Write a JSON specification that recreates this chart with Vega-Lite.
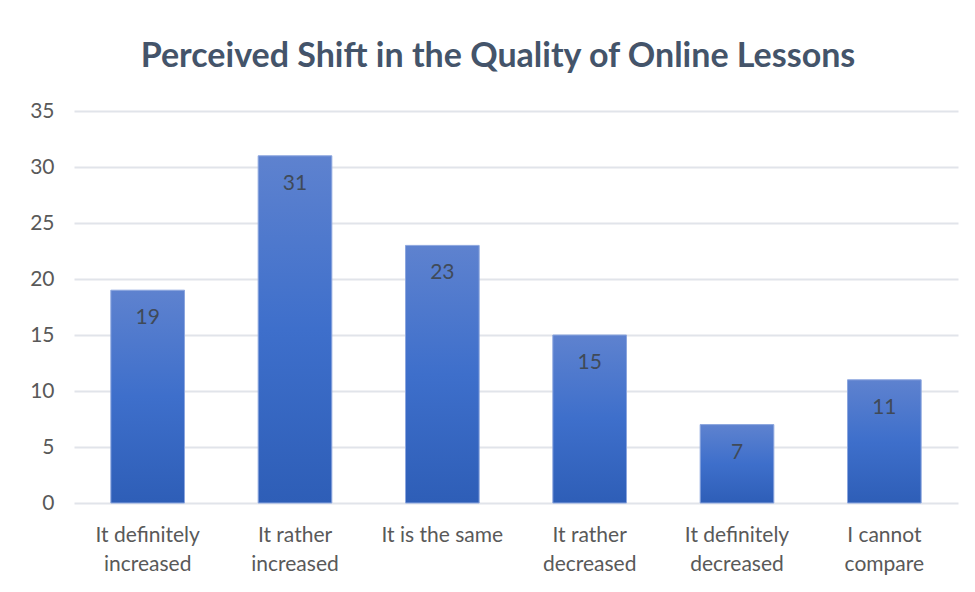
{
  "$schema": "https://vega.github.io/schema/vega-lite/v6.json",
  "autosize": "none",
  "width": 884,
  "height": 392,
  "padding": {"left": 74, "top": 111, "right": 17, "bottom": 89},
  "background": "white",
  "title": {
    "text": "Perceived Shift in the Quality of Online Lessons",
    "font": "Lato",
    "fontSize": 34,
    "fontWeight": "bold",
    "color": "#44546A",
    "anchor": "middle",
    "frame": "group",
    "dx": -18,
    "offset": 26
  },
  "data": {
    "values": [
      {"answer": "It definitely increased", "count": 19},
      {"answer": "It rather increased", "count": 31},
      {"answer": "It is the same", "count": 23},
      {"answer": "It rather decreased", "count": 15},
      {"answer": "It definitely decreased", "count": 7},
      {"answer": "I cannot compare", "count": 11}
    ]
  },
  "config": {
    "view": {"stroke": null},
    "axis": {"labelFont": "Lato", "labelColor": "#595959", "labelFontSize": 21}
  },
  "encoding": {
    "x": {
      "field": "answer",
      "type": "nominal",
      "sort": null,
      "scale": {"paddingInner": 0.5, "paddingOuter": 0.25},
      "axis": {
        "title": null,
        "labelAngle": 0,
        "ticks": false,
        "domain": false,
        "labelPadding": 21,
        "labelLineHeight": 29,
        "labelBaseline": "top",
        "labelExpr": "datum.value == 'It definitely increased' ? ['It definitely','increased'] : datum.value == 'It rather increased' ? ['It rather','increased'] : datum.value == 'It rather decreased' ? ['It rather','decreased'] : datum.value == 'It definitely decreased' ? ['It definitely','decreased'] : datum.value == 'I cannot compare' ? ['I cannot','compare'] : datum.value"
      }
    },
    "y": {
      "field": "count",
      "type": "quantitative",
      "scale": {"domain": [0, 35], "nice": false},
      "axis": {
        "title": null,
        "values": [0, 5, 10, 15, 20, 25, 30, 35],
        "ticks": false,
        "domain": false,
        "labelPadding": 20,
        "gridColor": "#E1E4EA",
        "gridWidth": 2
      }
    }
  },
  "layer": [
    {
      "mark": {
        "type": "bar",
        "stroke": "#8CA6DE",
        "strokeWidth": 1,
        "color": {
          "gradient": "linear",
          "x1": 0, "y1": 0, "x2": 0, "y2": 1,
          "stops": [
            {"offset": 0, "color": "#5E82CF"},
            {"offset": 0.5, "color": "#3E6FCB"},
            {"offset": 1, "color": "#2E5EB7"}
          ]
        }
      }
    },
    {
      "mark": {
        "type": "text",
        "baseline": "middle",
        "dy": 28,
        "font": "Lato",
        "fontSize": 21,
        "color": "#404A58"
      },
      "encoding": {"text": {"field": "count", "type": "quantitative"}}
    }
  ]
}
